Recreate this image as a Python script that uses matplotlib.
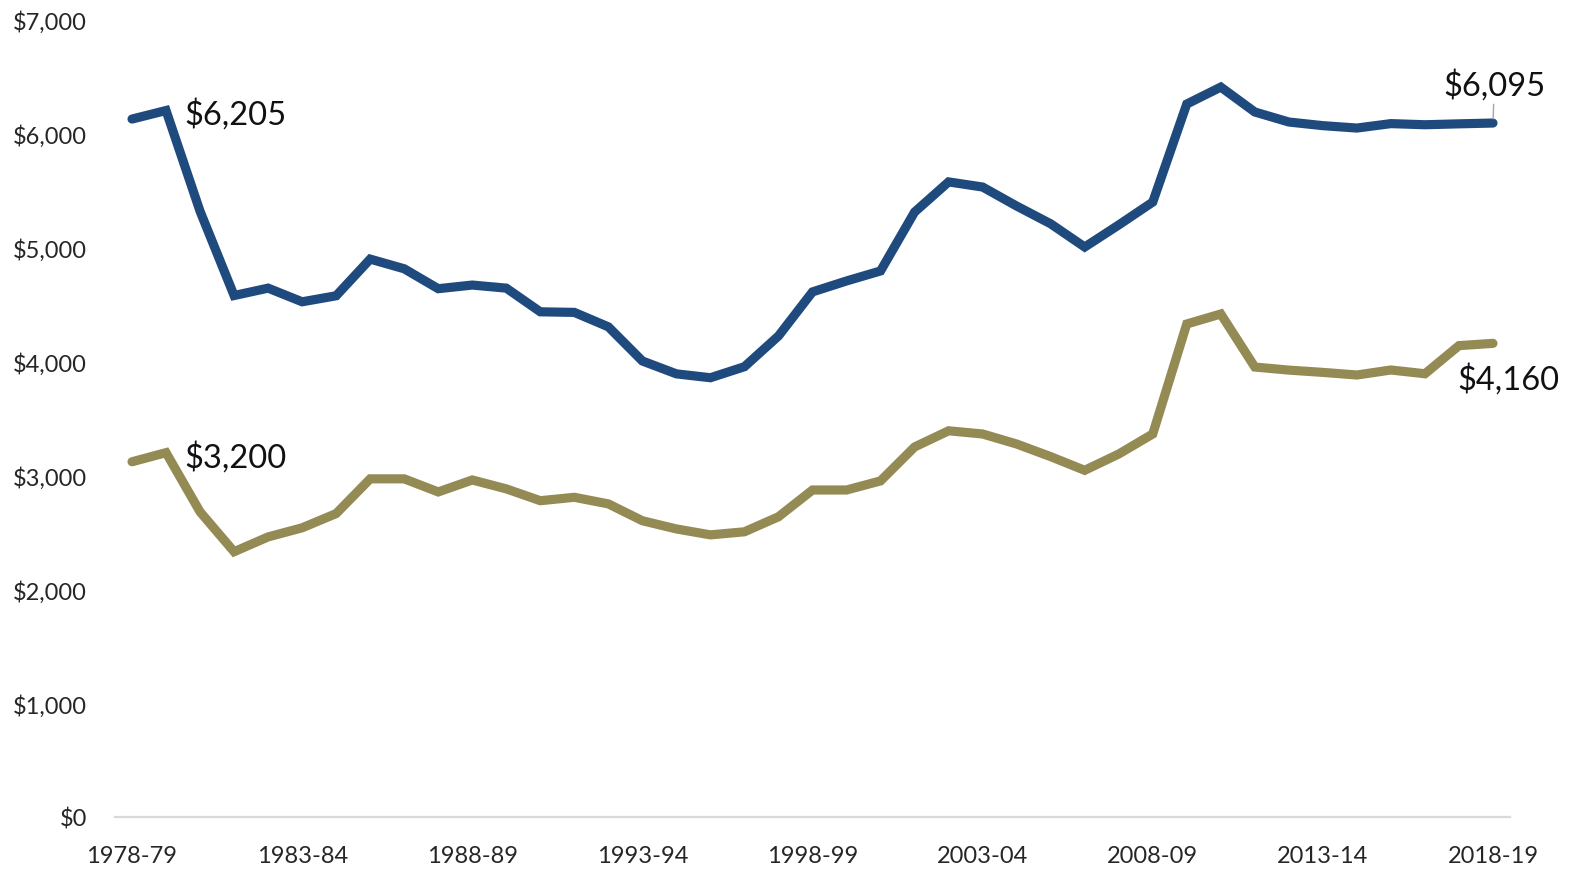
import matplotlib
matplotlib.use("Agg")
import matplotlib.pyplot as plt
from matplotlib.ticker import FuncFormatter

plt.rcParams['font.family'] = ['Lato', 'DejaVu Sans']

years = ["1978-79", "1979-80", "1980-81", "1981-82", "1982-83", "1983-84", "1984-85",
         "1985-86", "1986-87", "1987-88", "1988-89", "1989-90", "1990-91", "1991-92",
         "1992-93", "1993-94", "1994-95", "1995-96", "1996-97", "1997-98", "1998-99",
         "1999-00", "2000-01", "2001-02", "2002-03", "2003-04", "2004-05", "2005-06",
         "2006-07", "2007-08", "2008-09", "2009-10", "2010-11", "2011-12", "2012-13",
         "2013-14", "2014-15", "2015-16", "2016-17", "2017-18", "2018-19"]

blue_series = [6130, 6205, 5320, 4580, 4645, 4525, 4578, 4900, 4815, 4640, 4672,
               4645, 4437, 4432, 4305, 4005, 3892, 3858, 3955, 4225, 4612, 4708,
               4796, 5313, 5578, 5533, 5366, 5210, 5006, 5200, 5401, 6262, 6411,
               6192, 6104, 6072, 6051, 6090, 6080, 6088, 6095]

gold_series = [3120, 3200, 2680, 2330, 2460, 2540, 2665, 2970, 2970, 2855, 2960,
               2882, 2778, 2808, 2750, 2602, 2530, 2478, 2505, 2637, 2872, 2872,
               2952, 3250, 3392, 3364, 3276, 3165, 3045, 3188, 3364, 4330, 4418,
               3952, 3925, 3905, 3882, 3926, 3893, 4140, 4160]

yticks = [0, 1000, 2000, 3000, 4000, 5000, 6000, 7000]

BLUE = "#1f4a7e"
GOLD = "#948a54"

fig = plt.figure(figsize=(15.73, 8.70), dpi=100)
ax = fig.add_axes([115/1573, 1-818/870, (1510-115)/1573, (818-21)/870])

x = list(range(len(years)))
ax.plot(x, blue_series, color=BLUE, lw=6.6, solid_capstyle='round', solid_joinstyle='miter')
ax.plot(x, gold_series, color=GOLD, lw=6.6, solid_capstyle='round', solid_joinstyle='miter')

ax.set_xlim(-0.5, len(years) - 0.5)
ax.set_ylim(0, 7000)
ax.set_yticks(yticks)
ax.yaxis.set_major_formatter(FuncFormatter(lambda v, p: "${:,.0f}".format(v)))
ax.set_xticks(x[::5])
ax.set_xticklabels(years[::5])

for s in ["top", "right", "left"]:
    ax.spines[s].set_visible(False)
ax.spines["bottom"].set_color("#d9d9d9")
ax.spines["bottom"].set_linewidth(1.6)
ax.tick_params(axis='both', length=0, labelsize=17, colors="#262626")
ax.tick_params(axis='y', pad=20)
ax.tick_params(axis='x', pad=20)

tsize = 23.5
ax.annotate("${:,}".format(blue_series[1]), (1, blue_series[1]), xytext=(13, -2.5),
            textcoords='offset points', ha='left', va='center', fontsize=tsize, color="#111111")
ax.annotate("${:,}".format(gold_series[1]), (1, gold_series[1]), xytext=(13, -2.5),
            textcoords='offset points', ha='left', va='center', fontsize=tsize, color="#111111")
ax.annotate("${:,}".format(blue_series[-1]), (40, blue_series[-1]), xytext=(1, 28),
            textcoords='offset points', ha='center', va='center', fontsize=tsize, color="#111111",
            arrowprops=dict(arrowstyle='-', color='#a6a6a6', lw=1, shrinkA=1, shrinkB=3))
ax.annotate("${:,}".format(gold_series[-1]), (40, gold_series[-1]), xytext=(11, -25.5),
            textcoords='offset points', ha='center', va='center', fontsize=tsize, color="#111111")

fig.savefig("out.png", dpi=100)
